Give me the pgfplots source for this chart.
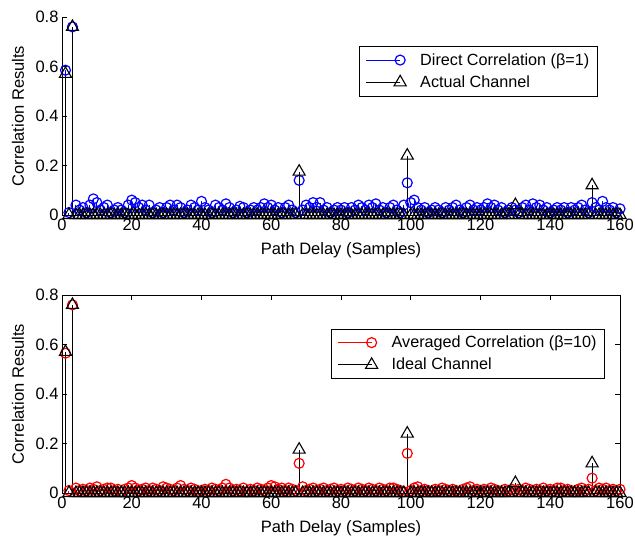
\documentclass[border=0pt]{standalone}
\usepackage{fontspec}
\setmainfont{Liberation Sans}
\usepackage{pgfplots}
\pgfplotsset{compat=1.18}
\usepackage{pgfplotstable}

\pgfplotstableread{
x d c m
1 0.585 0.57 0.565
2 0.01 0 0.01
3 0.76 0.76 0.76
4 0.04 0 0.02
5 0.02 0 0.01
6 0.03 0 0.015
7 0.01 0 0.01
8 0.04 0 0.02
9 0.065 0 0.015
10 0.05 0 0.025
11 0.02 0 0.01
12 0.03 0 0.015
13 0.04 0 0.02
14 0.01 0 0.02
15 0.02 0 0.01
16 0.03 0 0.015
17 0.02 0 0.005
18 0.01 0 0.015
19 0.04 0 0.02
20 0.06 0 0.03
21 0.05 0 0.02
22 0.03 0 0.01
23 0.04 0 0.015
24 0.02 0 0.02
25 0.04 0 0.01
26 0.01 0 0.02
27 0.02 0 0.015
28 0.03 0 0.01
29 0.01 0 0.025
30 0.03 0 0.02
31 0.04 0 0.015
32 0.02 0 0.01
33 0.04 0 0.02
34 0.03 0 0.03
35 0.01 0 0.015
36 0.02 0 0.01
37 0.04 0 0.02
38 0.03 0 0.015
39 0.02 0 0.005
40 0.055 0 0.01
41 0.03 0 0.015
42 0.02 0 0.01
43 0.01 0 0.02
44 0.04 0 0.015
45 0.03 0 0.01
46 0.02 0 0.02
47 0.045 0 0.035
48 0.03 0 0.02
49 0.01 0 0.01
50 0.02 0 0.015
51 0.035 0 0.01
52 0.03 0 0.02
53 0.01 0 0.005
54 0.02 0 0.015
55 0.03 0 0.01
56 0.02 0 0.02
57 0.03 0 0.015
58 0.045 0 0.01
59 0.03 0 0.02
60 0.04 0 0.03
61 0.02 0 0.025
62 0.03 0 0.015
63 0.01 0 0.02
64 0.03 0 0.01
65 0.04 0 0.02
66 0.02 0 0.015
67 0.01 0 0.01
68 0.14 0.175 0.12
69 0.02 0 0.025
70 0.04 0 0.01
71 0.03 0 0.015
72 0.05 0 0.02
73 0.03 0 0.01
74 0.05 0 0.015
75 0.02 0 0.02
76 0.03 0 0.01
77 0.01 0 0.015
78 0.02 0 0.02
79 0.03 0 0.01
80 0.02 0 0.015
81 0.03 0 0.01
82 0.01 0 0.02
83 0.03 0 0.015
84 0.02 0 0.01
85 0.04 0 0.02
86 0.03 0 0.015
87 0.02 0 0.01
88 0.04 0 0.02
89 0.03 0 0.015
90 0.045 0 0.01
91 0.02 0 0.02
92 0.03 0 0.015
93 0.01 0 0.01
94 0.03 0 0.02
95 0.04 0 0.02
96 0.02 0 0.015
97 0.01 0 0.01
98 0.04 0 0.005
99 0.13 0.24 0.16
100 0.05 0 0.01
101 0.06 0 0.02
102 0.03 0 0.025
103 0.02 0 0.01
104 0.03 0 0.015
105 0.01 0 0.01
106 0.02 0 0.005
107 0.03 0 0.015
108 0.02 0 0.01
109 0.01 0 0.02
110 0.03 0 0.015
111 0.02 0 0.01
112 0.03 0 0.015
113 0.04 0 0.01
114 0.02 0 0.005
115 0.01 0 0.015
116 0.03 0 0.02
117 0.04 0 0.025
118 0.02 0 0.01
119 0.03 0 0.015
120 0.02 0 0.01
121 0.03 0 0.015
122 0.045 0 0.01
123 0.03 0 0.02
124 0.04 0 0.015
125 0.02 0 0.01
126 0.03 0 0.005
127 0.01 0 0.015
128 0.02 0 0.01
129 0.03 0 0.015
130 0.02 0.04 0.01
131 0.01 0 0.015
132 0.03 0 0.01
133 0.04 0 0.02
134 0.02 0 0.015
135 0.045 0 0.01
136 0.03 0 0.015
137 0.04 0 0.01
138 0.02 0 0.02
139 0.03 0 0.01
140 0.01 0 0.015
141 0.02 0 0.01
142 0.03 0 0.02
143 0.02 0 0.02
144 0.03 0 0.01
145 0.01 0 0.015
146 0.03 0 0.01
147 0.02 0 0.005
148 0.03 0 0.015
149 0.04 0 0.02
150 0.02 0 0.01
151 0.01 0 0.015
152 0.05 0.12 0.06
153 0.03 0 0.01
154 0.02 0 0.02
155 0.055 0 0.015
156 0.03 0 0.02
157 0.02 0 0.01
158 0.03 0 0.015
159 0.01 0 0.01
160 0.025 0 0.015
}\data

\pgfplotsset{
  stemleg/.style={legend image code/.code={\draw[##1,sharp plot,mark repeat=2,mark phase=2] plot coordinates {(0pt,0pt)(34pt,0pt)};}},
  common/.style={
    scale only axis, width=558pt, height=198pt,
    xmin=0, xmax=160, ymin=0, ymax=0.8,
    xtick={0,20,...,160}, ytick={0,0.2,0.4,0.6,0.8},
    tick align=inside, major tick length=5pt,
    every tick/.style={black, line width=0.7pt},
    axis line style={line width=0.7pt},
    /pgf/number format/assume math mode=true,
    tick label style={font=\fontsize{16.5}{19}\selectfont},
    label style={font=\fontsize{16.5}{19}\selectfont},
    xlabel={Path Delay (Samples)}, ylabel={Correlation Results},
    xlabel style={at={(axis description cs:0.5,-0.18)}, anchor=center},
    ylabel style={at={(axis description cs:-0.079,0.5)}, anchor=center},
    legend style={font=\fontsize{16.2}{19}\selectfont, draw=black, line width=0.7pt,
      cells={anchor=west}, row sep=5pt, column sep=12pt, inner xsep=6pt, inner ysep=5pt},
    clip=false,
  },
  circ/.style={ycomb, line width=1pt, mark=o, mark size=5pt, mark options={solid, line width=1.2pt}, stemleg},
  tri/.style={ycomb, black, line width=1pt, mark=triangle, mark size=7pt, mark options={solid, line width=1.1pt}, stemleg},
}

\begin{document}
\begin{tikzpicture}
\path[use as bounding box] (-62pt,-43pt) rectangle (573pt,493pt);

\begin{axis}[common, at={(0pt,278pt)},
  axis x line*=bottom, axis y line*=left,
  legend style={at={(0.96,0.853)}, anchor=north east}]
\addplot[circ, blue] table[x=x, y=d] {\data};
\addlegendentry{Direct Correlation (β=1)}
\addplot[tri] table[x=x, y=c] {\data};
\addlegendentry{Actual Channel}
\end{axis}

\begin{axis}[common, at={(0pt,0pt)},
  xtick pos=both, ytick pos=both,
  legend style={at={(0.973,0.83)}, anchor=north east}]
\addplot[circ, red] table[x=x, y=m] {\data};
\addlegendentry{Averaged Correlation (β=10)}
\addplot[tri] table[x=x, y=c] {\data};
\addlegendentry{Ideal Channel}
\end{axis}
\end{tikzpicture}
\end{document}
